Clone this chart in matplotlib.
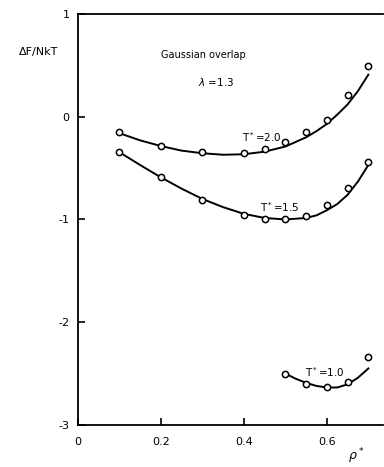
import matplotlib
matplotlib.use("Agg")
import matplotlib.pyplot as plt

# measured points (open circles)
rho_20 = [0.10, 0.20, 0.30, 0.40, 0.45, 0.50, 0.55, 0.60, 0.65, 0.70]
f_20 = [-0.15, -0.28, -0.34, -0.35, -0.31, -0.25, -0.15, -0.03, 0.21, 0.49]
rho_15 = [0.10, 0.20, 0.30, 0.40, 0.45, 0.50, 0.55, 0.60, 0.65, 0.70]
f_15 = [-0.34, -0.59, -0.81, -0.96, -1.00, -1.00, -0.97, -0.86, -0.69, -0.44]
rho_10 = [0.50, 0.55, 0.60, 0.65, 0.70]
f_10 = [-2.50, -2.60, -2.63, -2.58, -2.34]

# fitted curves
curve_x_20 = [0.10, 0.15, 0.20, 0.25, 0.30, 0.35, 0.40, 0.45, 0.50, 0.55,
              0.575, 0.60, 0.625, 0.65, 0.675, 0.70]
curve_y_20 = [-0.16, -0.23, -0.285, -0.33, -0.355, -0.37, -0.365, -0.34, -0.29, -0.20,
              -0.14, -0.07, 0.02, 0.12, 0.25, 0.41]
curve_x_15 = [0.11, 0.15, 0.20, 0.25, 0.30, 0.35, 0.40, 0.45, 0.50, 0.55,
              0.575, 0.60, 0.625, 0.65, 0.675, 0.70]
curve_y_15 = [-0.37, -0.47, -0.59, -0.70, -0.80, -0.88, -0.945, -0.985, -1.00, -0.985,
              -0.96, -0.91, -0.85, -0.76, -0.63, -0.47]
curve_x_10 = [0.50, 0.525, 0.55, 0.575, 0.60, 0.625, 0.65, 0.675, 0.70]
curve_y_10 = [-2.50, -2.55, -2.59, -2.62, -2.635, -2.635, -2.605, -2.54, -2.45]

plt.rcParams["font.family"] = ["DejaVu Sans"]

fig = plt.figure(figsize=(3.84, 4.67), dpi=100)
ax = fig.add_axes([0.203, 0.09, 0.794, 0.88])

lw = 1.4
ax.plot(curve_x_20, curve_y_20, color="black", lw=lw)
ax.plot(curve_x_15, curve_y_15, color="black", lw=lw)
ax.plot(curve_x_10, curve_y_10, color="black", lw=lw)
for x, y in [(rho_20, f_20), (rho_15, f_15), (rho_10, f_10)]:
    ax.plot(x, y, "o", mfc="white", mec="black", ms=4.5, mew=1.1)

ax.set_xlim(0, 0.735)
ax.set_ylim(-3, 1)
ax.spines["right"].set_visible(False)
for s in ["left", "bottom", "top"]:
    ax.spines[s].set_linewidth(1.3)

ax.set_xticks([0, 0.2, 0.4, 0.6])
ax.set_xticklabels(["0", "0.2", "0.4", "0.6"])
ax.set_yticks([-3, -2, -1, 0, 1])
ax.set_yticklabels(["-3", "-2", "-1", "0", "1"])
ax.tick_params(direction="in", length=5, width=1.2, labelsize=8, pad=6)
ax.tick_params(axis="x", pad=9)

ax.text(0.303, 0.6, "Gaussian overlap", fontsize=7, ha="center", va="center")
ax.text(0.333, 0.34, "$\\lambda$ =1.3", fontsize=7.5, ha="center", va="center")
ax.text(0.395, -0.265, "T$^*$=2.0", fontsize=7.5, ha="left", va="bottom")
ax.text(0.44, -0.95, "T$^*$=1.5", fontsize=7.5, ha="left", va="bottom")
ax.text(0.547, -2.55, "T$^*$=1.0", fontsize=7.5, ha="left", va="bottom")
ax.text(0.67, -3.30, "$\\rho^*$", fontsize=9, ha="center", va="center", clip_on=False)

fig.text(0.05, 1 - 52 / 467, "ΔF/NkT", fontsize=8, ha="left", va="center")

fig.savefig("out.png", dpi=100)
